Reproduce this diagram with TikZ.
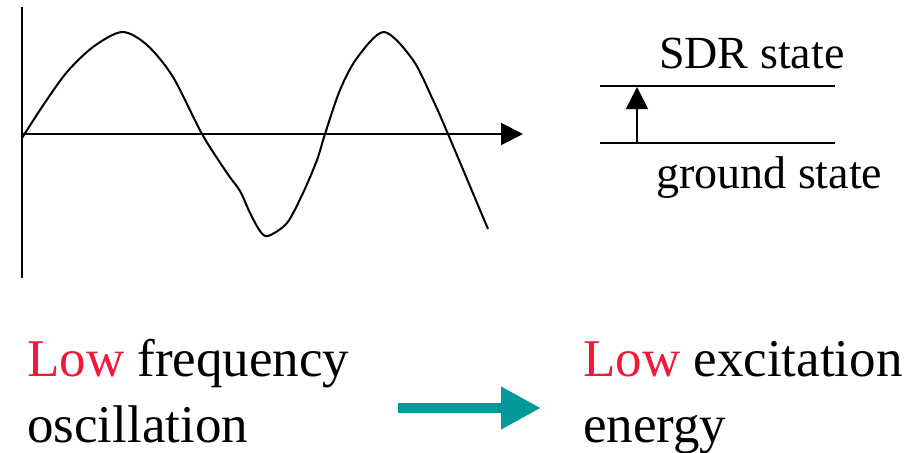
\documentclass[tikz,border=0pt]{standalone}
\usepackage{fontspec}
\setmainfont{Liberation Serif}
\usetikzlibrary{positioning,arrows.meta,calc}
\definecolor{lowred}{RGB}{240,25,55}
\definecolor{arrowteal}{RGB}{0,153,153}
\tikzset{
  axisline/.style={line width=2pt,black},
  axisarrow/.style={axisline,-{Triangle[length=22pt,width=22pt]}},
  wave/.style={line width=2pt,black,line join=round},
  level/.style={line width=2pt,black},
  excite/.style={line width=1.6pt,-{Triangle[length=22pt,width=22pt]}},
  lvllbl/.style={font=\fontsize{46}{55}\selectfont,inner sep=0pt,anchor=base west},
  bigtxt/.style={font=\fontsize{53}{66}\selectfont,inner sep=0pt,anchor=base west},
  bigarrow/.style={arrowteal,line width=10pt,-{Triangle[length=40pt,width=40pt]}},
}
\begin{document}
\begin{tikzpicture}[x=1pt,y=-1pt]
  \useasboundingbox (0,0) rectangle (912,452);
  % axes of the oscillation plot
  \coordinate (O) at (21.7,134);
  \coordinate (ytop) at (21.7,7);
  \coordinate (ybot) at (21.7,278);
  \coordinate (xend) at (523,134);
  \draw[axisline] (ytop) -- (ybot);
  \draw[axisarrow] (O) -- (xend);
  % the wave itself
  \draw[wave] plot[smooth,tension=0.5] coordinates {
    (22,138) (44,104) (67,72) (93,47) (122,32) (147,45) (173,77)
    (202,134) (227,173) (240,191) (250,213) (260,231) (268,236)
    (287,223) (303,193) (317,160) (325,134) (340,90) (357,58)
    (384,32) (413,60) (433,100) (448,134) (488,229)};
  % energy levels
  \coordinate (sdrL) at (600,86);
  \coordinate (sdrR) at (835,86);
  \coordinate (gndL) at (600,143);
  \coordinate (gndR) at (835,143);
  \draw[level] (sdrL) -- (sdrR);
  \draw[level] (gndL) -- (gndR);
  \coordinate (exbot) at (637,143);
  \coordinate (extop) at (637,87);
  \draw[excite] (exbot) -- (extop);
  \node[lvllbl] (sdr) at (659,68) {SDR state};
  \node[lvllbl] (gnd) at (656,188) {ground state};
  % captions below
  \node[bigtxt] (lowf) at (27,376) {\textcolor{lowred}{Low} frequency};
  \node[bigtxt] (osc) at ([yshift=-66pt]lowf.base west) {oscillation};
  \node[bigtxt] (lowe) at (583,376) {\textcolor{lowred}{Low} excitation};
  \node[bigtxt] (ener) at ([yshift=-66pt]lowe.base west) {energy};
  \coordinate (tail) at (398,408);
  \coordinate (tip) at (541,408);
  \draw[bigarrow] (tail) -- (tip);
\end{tikzpicture}
\end{document}
